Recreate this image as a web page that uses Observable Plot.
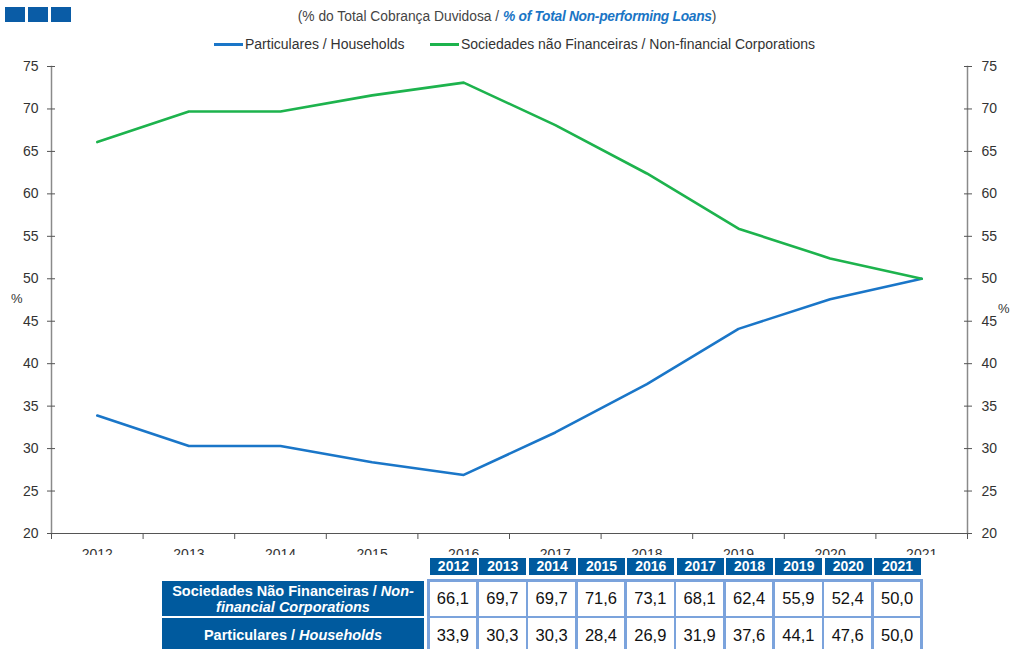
<!DOCTYPE html>
<html>
<head>
<meta charset="utf-8">
<script src="https://cdn.jsdelivr.net/npm/d3@7"></script>
<script src="https://cdn.jsdelivr.net/npm/@observablehq/plot@0.6"></script>
<style>
  html, body { margin: 0; padding: 0; background: #fff; }
  body { font-family: "Liberation Sans", Arial, sans-serif; }
  #wrap { position: relative; width: 1010px; height: 649px; overflow: hidden; background: #fff; }
  #chart { position: absolute; left: 0; top: 0; }
  .logo { position: absolute; top: 7px; width: 20px; height: 15px; background: #0a5ca6; }
  #title { position: absolute; top: 9px; left: 0; width: 1014px; text-align: center; font-size: 13.8px; color: #444; white-space: nowrap; }
  #title b { color: #1a75c5; font-style: italic; letter-spacing: -0.3px; }
  .leg { position: absolute; top: 36px; font-size: 14px; color: #333; white-space: nowrap; display: flex; align-items: center; }
  .leg span.sw { display: inline-block; width: 29px; height: 3px; margin-right: 2px; }
  .pct { position: absolute; font-size: 13px; color: #333; }
  #tbl { position: absolute; left: 0; top: 555px; width: 1010px; height: 94px; background: #fff; }
  #hdr { position: absolute; left: 430px; top: 3px; width: 491px; display: grid; grid-template-columns: repeat(10, 1fr); column-gap: 2.5px; }
  #hdr div { background: #005a9e; color: #fff; font-weight: bold; font-size: 14px; text-align: center; height: 17px; line-height: 17px; }
  .rl { position: absolute; left: 162px; width: 262px; background: #005a9e; color: #fff; font-weight: bold; font-size: 14.5px; text-align: center; display: flex; align-items: center; justify-content: center; line-height: 16px; }
  .rl span { display: block; }
  #data { position: absolute; left: 427px; top: 24px; width: 491px; background: #7ba3dc; padding: 2.5px; display: grid; grid-template-columns: repeat(10, 1fr); gap: 2.5px; }
  #data div { background: #fff; color: #111; font-size: 16.5px; text-align: center; display: flex; align-items: center; justify-content: center; }
</style>
</head>
<body>
<div id="wrap">
  <div id="chart"></div>
  <div class="logo" style="left:5px"></div>
  <div class="logo" style="left:28px"></div>
  <div class="logo" style="left:51px"></div>
  <div id="title">(% do Total Cobrança Duvidosa / <b>% of Total Non-performing Loans</b>)</div>
  <div id="legend"></div>
  <div class="pct" style="left:11px; top:291px">%</div>
  <div class="pct" style="left:998px; top:301px">%</div>
  <div id="tbl">
    <div id="hdr"></div>
    <div id="rowlabels"></div>
    <div id="data"></div>
  </div>
</div>
<script>
// ---- Data ----
const years = [2012, 2013, 2014, 2015, 2016, 2017, 2018, 2019, 2020, 2021];
const corporations = [66.1, 69.7, 69.7, 71.6, 73.1, 68.1, 62.4, 55.9, 52.4, 50.0];
const households = [33.9, 30.3, 30.3, 28.4, 26.9, 31.9, 37.6, 44.1, 47.6, 50.0];
const seriesNames = ["Particulares / Households", "Sociedades não Financeiras / Non-financial Corporations"];
const seriesColors = ["#1a76c8", "#1db34d"];
const yTicks = [20, 25, 30, 35, 40, 45, 50, 55, 60, 65, 70, 75];
const rowLabelsHtml = [
  "Sociedades Não Financeiras / <i>Non-<br>financial Corporations</i>",
  "Particulares / <i>Households</i>"
];

const boundaries = years.map(y => y - 0.5).concat([years[years.length - 1] + 0.5]);

const rows = [];
years.forEach((year, i) => {
  rows.push({year, series: seriesNames[0], value: households[i]});
  rows.push({year, series: seriesNames[1], value: corporations[i]});
});

const chart = Plot.plot({
  width: 1010,
  height: 649,
  marginTop: 66,
  marginBottom: 116,
  marginLeft: 51,
  marginRight: 43,
  style: {fontFamily: "'Liberation Sans', Arial, sans-serif", fontSize: "14px", color: "#333", background: "transparent"},
  x: {domain: [boundaries[0], boundaries[boundaries.length - 1]]},
  y: {domain: [20, 75]},
  color: {domain: seriesNames, range: seriesColors},
  marks: [
    Plot.frame({anchor: "left", stroke: "#8a8a8a", strokeWidth: 1.5}),
    Plot.frame({anchor: "right", stroke: "#8a8a8a", strokeWidth: 1.5}),
    Plot.frame({anchor: "bottom", stroke: "#555", strokeWidth: 1.2}),
    Plot.axisY({anchor: "left", ticks: yTicks, tickSize: 8, dx: 4, tickPadding: 9, stroke: "#555", label: null}),
    Plot.axisY({anchor: "right", ticks: yTicks, tickSize: 8, dx: -4, tickPadding: 10, stroke: "#555", label: null}),
    Plot.axisX({ticks: boundaries, tickSize: 6, tickFormat: () => "", stroke: "#555", label: null}),
    Plot.axisX({ticks: years, tickSize: 0, tickPadding: 16, tickFormat: d => String(d), label: null}),
    Plot.lineY(rows, {x: "year", y: "value", stroke: "series", strokeWidth: 2.6})
  ]
});
document.getElementById("chart").appendChild(chart);

// legend
const legend = document.getElementById("legend");
const legendLeft = [214, 430];
seriesNames.forEach((name, i) => {
  const d = document.createElement("div");
  d.className = "leg";
  d.style.left = legendLeft[i] + "px";
  d.innerHTML = `<span class="sw" style="background:${seriesColors[i]}"></span>${name}`;
  legend.appendChild(d);
});

// table
const hdr = document.getElementById("hdr");
years.forEach(y => {
  const c = document.createElement("div");
  c.textContent = y;
  hdr.appendChild(c);
});
const rl = document.getElementById("rowlabels");
const rlTops = [26, 63];
const rlHeights = [35, 33];
rowLabelsHtml.forEach((h, i) => {
  const c = document.createElement("div");
  c.className = "rl";
  c.style.top = rlTops[i] + "px";
  c.style.height = rlHeights[i] + "px";
  c.innerHTML = `<span>${h}</span>`;
  rl.appendChild(c);
});
const data = document.getElementById("data");
data.style.gridTemplateRows = "34px 34px";
const fmt = v => v.toFixed(1).replace(".", ",");
[corporations, households].forEach(arr => {
  arr.forEach(v => {
    const c = document.createElement("div");
    c.textContent = fmt(v);
    data.appendChild(c);
  });
});
</script>
</body>
</html>
